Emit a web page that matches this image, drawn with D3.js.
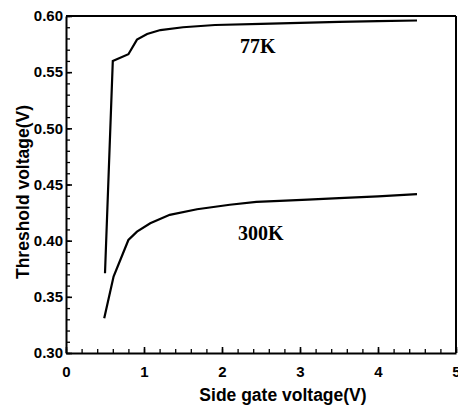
<!DOCTYPE html>
<html>
<head>
<meta charset="utf-8">
<script src="https://cdn.jsdelivr.net/npm/d3@7"></script>
<style>
  body { margin: 0; background: #fff; }
  svg { display: block; }
  .tick text { font-family: "Liberation Sans", Arial, sans-serif; font-weight: bold; font-size: 15px; fill: #000; }
  .axis path, .axis line { stroke: #000; }
</style>
</head>
<body>
<svg id="chart" width="458" height="405"></svg>
<script>
// --- Data ---
const gate77 = [0.50, 0.60, 0.80, 0.91, 1.04, 1.21, 1.50, 1.91, 2.50, 3.00, 3.50, 4.00, 4.50];
const vth77  = [0.371, 0.560, 0.566, 0.579, 0.584, 0.5875, 0.590, 0.592, 0.593, 0.5938, 0.5948, 0.5955, 0.596];

const gate300 = [0.49, 0.61, 0.80, 0.91, 1.08, 1.33, 1.68, 2.10, 2.44, 2.74, 3.10, 3.50, 4.00, 4.50];
const vth300  = [0.331, 0.368, 0.4006, 0.408, 0.4155, 0.423, 0.428, 0.432, 0.4345, 0.4355, 0.4365, 0.4378, 0.4395, 0.4415];

const xTicks = [0, 1, 2, 3, 4, 5];
const yTicks = [0.30, 0.35, 0.40, 0.45, 0.50, 0.55, 0.60];

// --- Layout ---
const svg = d3.select("#chart");
const x = d3.scaleLinear().domain([0, 5]).range([66, 456]);
const y = d3.scaleLinear().domain([0.30, 0.60]).range([353, 16]);

// minor ticks
const xMinor = d3.range(0, 5.001, 0.2);
const yMinor = d3.range(0.30, 0.6001, 0.01);

svg.append("g")
    .attr("class", "axis")
    .attr("transform", `translate(0,${y(0.30)})`)
    .call(d3.axisBottom(x).tickValues(xMinor).tickSize(-4).tickSizeOuter(0).tickFormat(""))
    .call(g => g.select(".domain").remove())
    .selectAll("line").attr("stroke-width", 1.3);

svg.append("g")
    .attr("class", "axis")
    .attr("transform", `translate(${x(0)},0)`)
    .call(d3.axisLeft(y).tickValues(yMinor).tickSize(-4).tickSizeOuter(0).tickFormat(""))
    .call(g => g.select(".domain").remove())
    .selectAll("line").attr("stroke-width", 1.3);

// major ticks + labels
svg.append("g")
    .attr("class", "axis")
    .attr("transform", `translate(0,${y(0.30)})`)
    .call(d3.axisBottom(x).tickValues(xTicks).tickSize(-6).tickSizeOuter(0).tickPadding(13).tickFormat(d3.format("d")))
    .call(g => g.select(".domain").attr("stroke-width", 2))
    .selectAll("line").attr("stroke-width", 1.6);

svg.append("g")
    .attr("class", "axis")
    .attr("transform", `translate(${x(0)},0)`)
    .call(d3.axisLeft(y).tickValues(yTicks).tickSize(-6).tickSizeOuter(0).tickPadding(3).tickFormat(d3.format(".2f")))
    .call(g => g.select(".domain").attr("stroke-width", 2))
    .selectAll("line").attr("stroke-width", 1.6);

// top and right frame
svg.append("line")
    .attr("x1", x(0)).attr("x2", x(5))
    .attr("y1", y(0.60)).attr("y2", y(0.60))
    .attr("stroke", "#000").attr("stroke-width", 2);
svg.append("line")
    .attr("x1", x(5)).attr("x2", x(5))
    .attr("y1", y(0.60)).attr("y2", y(0.30))
    .attr("stroke", "#000").attr("stroke-width", 2);

// --- Curves ---
const line = d3.line()
    .x(d => x(d[0]))
    .y(d => y(d[1]));

svg.append("path")
    .datum(gate77.map((g, i) => [g, vth77[i]]))
    .attr("fill", "none")
    .attr("stroke", "#000")
    .attr("stroke-width", 2.2)
    .attr("d", line);

svg.append("path")
    .datum(gate300.map((g, i) => [g, vth300[i]]))
    .attr("fill", "none")
    .attr("stroke", "#000")
    .attr("stroke-width", 2.2)
    .attr("d", line);

// --- Curve labels ---
svg.append("text")
    .attr("x", 240).attr("y", 53)
    .attr("font-family", "Liberation Serif, Times New Roman, serif")
    .attr("font-weight", "bold").attr("font-size", 20)
    .text("77K");

svg.append("text")
    .attr("x", 238).attr("y", 240)
    .attr("font-family", "Liberation Serif, Times New Roman, serif")
    .attr("font-weight", "bold").attr("font-size", 20)
    .text("300K");

// --- Axis titles ---
svg.append("text")
    .attr("x", 283).attr("y", 401)
    .attr("text-anchor", "middle")
    .attr("font-family", "Liberation Sans, Arial, sans-serif")
    .attr("font-weight", "bold").attr("font-size", 17.5)
    .text("Side gate voltage(V)");

svg.append("text")
    .attr("transform", "translate(29,192) rotate(-90)")
    .attr("text-anchor", "middle")
    .attr("font-family", "Liberation Sans, Arial, sans-serif")
    .attr("font-weight", "bold").attr("font-size", 17.5)
    .text("Threshold voltage(V)");
</script>
</body>
</html>
